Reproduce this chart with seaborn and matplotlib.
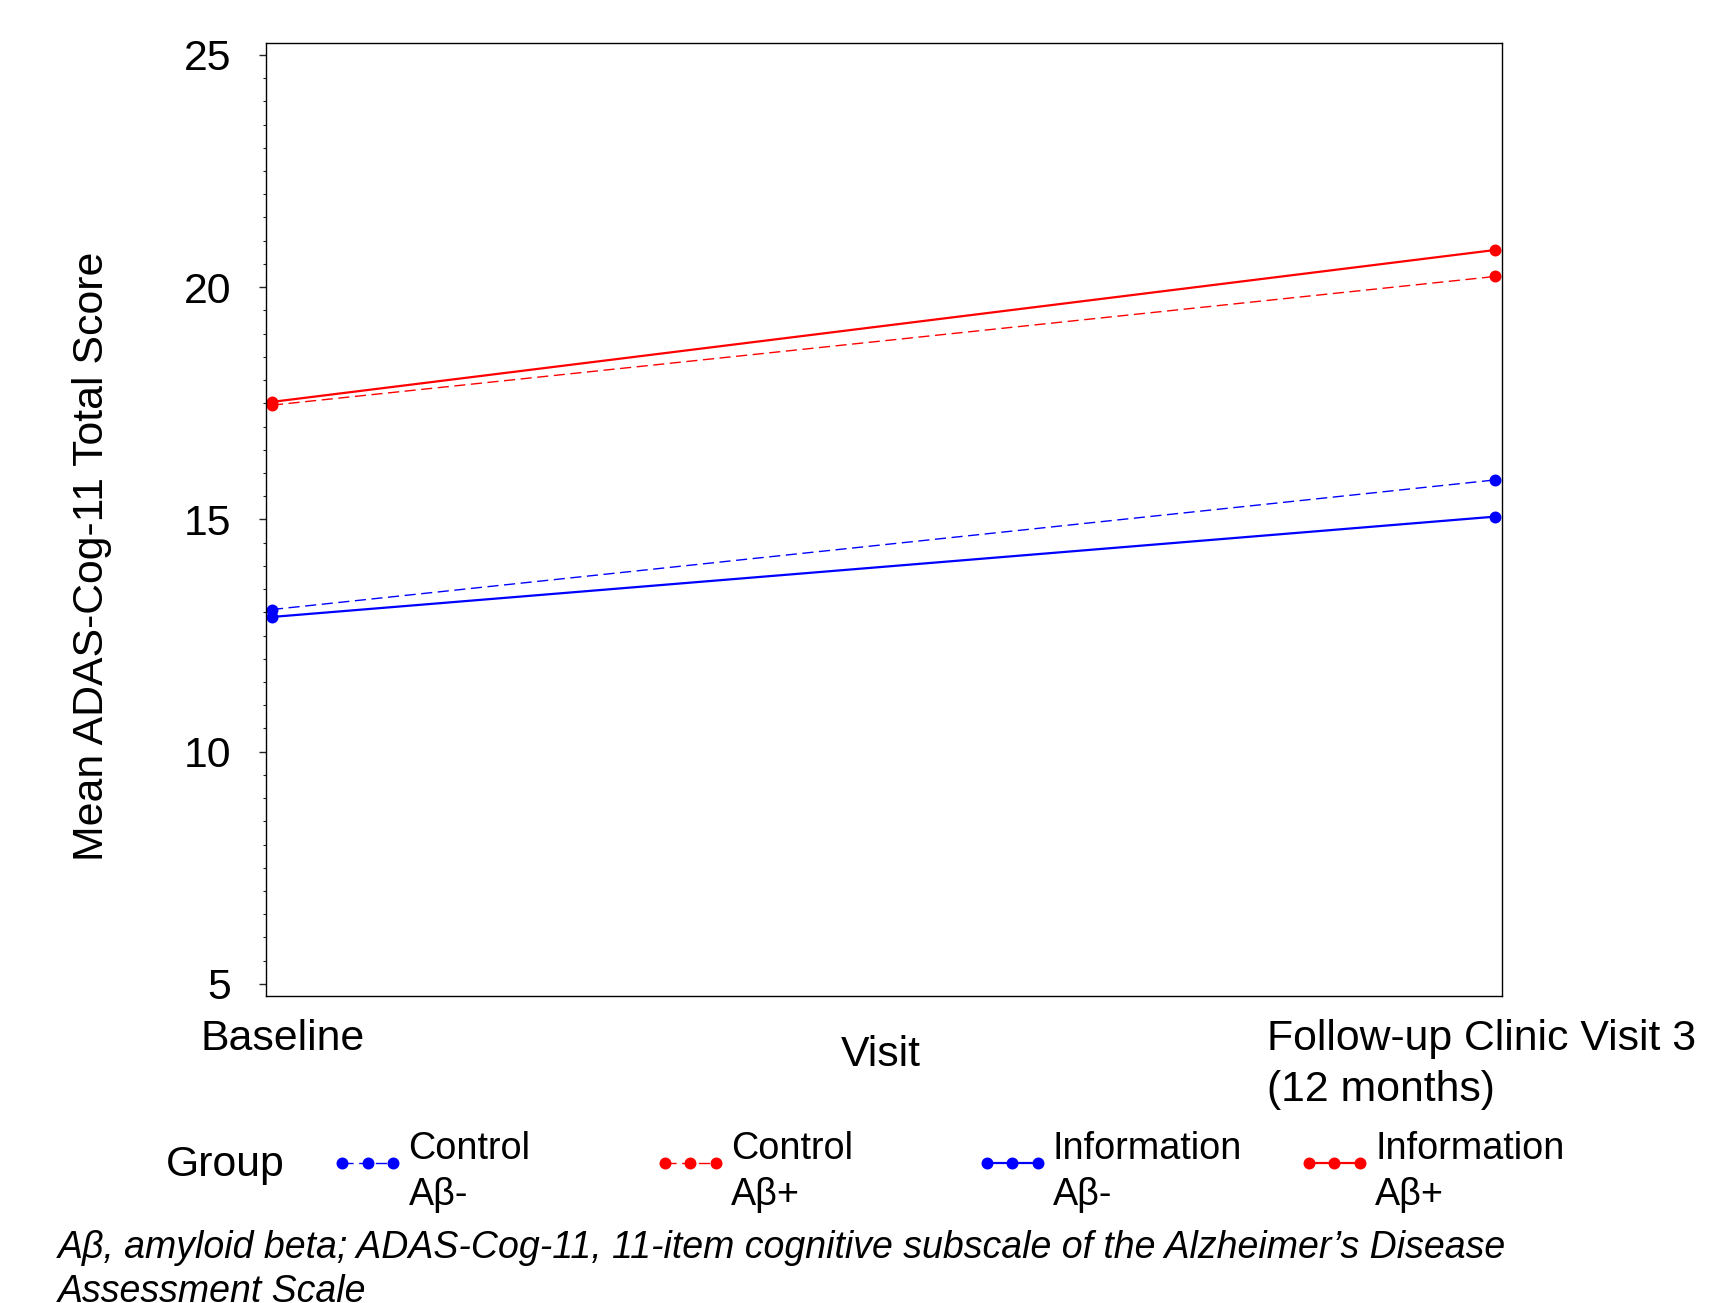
import numpy as np
import pandas as pd
import matplotlib
matplotlib.use("Agg")
import matplotlib.pyplot as plt
import matplotlib.transforms as mtransforms
from matplotlib.lines import Line2D
from matplotlib.ticker import MultipleLocator, FixedLocator
import seaborn as sns

# ---------------- data ----------------
visits = ["Baseline", "Follow-up Clinic Visit 3\n(12 months)"]
groups = ["Control\nAβ-", "Control\nAβ+", "Information\nAβ-", "Information\nAβ+"]
control_neg = [13.06, 15.85]
control_pos = [17.46, 20.23]
info_neg = [12.90, 15.06]
info_pos = [17.53, 20.80]
yticks = [5, 10, 15, 20, 25]
ylabel = "Mean ADAS-Cog-11 Total Score"
xlabel = "Visit"
legend_title = "Group"
footnote = ("Aβ, amyloid beta; ADAS-Cog-11, 11-item cognitive subscale of the Alzheimer’s Disease\n"
            "Assessment Scale")

# ---------------- style ----------------
sns.set_theme(style="white")
plt.rcParams['font.family'] = ['Liberation Sans', 'DejaVu Sans']
plt.rcParams.update({"text.color": "black", "axes.labelcolor": "black",
                     "xtick.color": "black", "ytick.color": "black"})

W, H = 1735, 1303
fig = plt.figure(figsize=(W / 100, H / 100), dpi=100)


def fx(px):
    return px / W


def fy(py):
    return 1 - py / H


ax = fig.add_axes([fx(265.7), fy(996), (1501.7 - 265.7) / W, (996 - 43.3) / H])

df = pd.DataFrame({
    "Visit": visits * 4,
    "Score": control_neg + control_pos + info_neg + info_pos,
    "Group": [g for g in groups for _ in visits],
})

colors = {groups[0]: "#0000FF", groups[1]: "#FF0000",
          groups[2]: "#0000FF", groups[3]: "#FF0000"}
lws = {groups[0]: 1.0, groups[1]: 1.0, groups[2]: 1.6, groups[3]: 1.6}
lss = {groups[0]: (0, (8, 4)), groups[1]: (0, (8, 4)),
       groups[2]: "-", groups[3]: "-"}
ms = 8.6
FS = 30.8

for g in groups:
    sub = df[df["Group"] == g]
    sns.lineplot(data=sub, x="Visit", y="Score", ax=ax, color=colors[g],
                 linewidth=lws[g], linestyle=lss[g], marker="o",
                 markersize=ms, markeredgecolor=colors[g], markeredgewidth=0,
                 legend=False, sort=False)

ax.set_xlim(-0.00515, 1.0055)
ax.set_ylim(4.74, 25.25)

ax.set_xticks([0, 1])
ax.set_xticklabels(visits, fontsize=FS)
ax.tick_params(axis="x", length=0, pad=16.5)
ax.yaxis.set_major_locator(FixedLocator(yticks))
ax.yaxis.set_minor_locator(MultipleLocator(0.5))
ax.tick_params(axis="y", which="both", left=True, direction="out",
               colors="#222222", labelcolor="black")
ax.tick_params(axis="y", which="major", length=5, width=1.0, pad=20, labelsize=FS)
ax.tick_params(axis="y", which="minor", length=2.5, width=0.8)

# x tick label offsets / alignment
xoffs = [11, -13.5]
for tick, dx in zip(ax.xaxis.get_major_ticks(), xoffs):
    lab = tick.label1
    lab.set_multialignment("left")
    lab.set_linespacing(1.36)
    lab.set_transform(lab.get_transform() +
                      mtransforms.ScaledTranslation(dx / 100, 0, fig.dpi_scale_trans))

for s in ax.spines.values():
    s.set_color("black")
    s.set_linewidth(1.0)
    s.set_visible(True)

ax.set_xlabel(xlabel, fontsize=FS)
ax.xaxis.set_label_coords((881 - 265.7) / 1236, -(1065.6 - 996) / 952.7)
ax.xaxis.label.set_va("baseline")

ax.set_ylabel(ylabel, fontsize=FS)
ax.yaxis.label.set_va("center")
ax.yaxis.set_label_coords((92 - 265.7) / 1236, (996 - 556) / 952.7)

# ---------------- legend ----------------
fig.text(fx(166), fy(1176), legend_title, fontsize=FS, va="baseline", ha="left")
LFS = 27.2
for i, g in enumerate(groups):
    h = Line2D([], [], color=colors[g], linewidth=lws[g], linestyle=lss[g],
               marker="o", markersize=ms, markeredgewidth=0)
    leg = fig.legend([h], [g], loc="lower left",
                     bbox_to_anchor=(fx(331 + 322.2 * i), fy(1213)),
                     fontsize=LFS, handlelength=1.95, handletextpad=0.1,
                     handleheight=2.35,
                     numpoints=3, frameon=False, borderpad=0, borderaxespad=0)
    for t in leg.get_texts():
        t.set_linespacing(1.36)

# ---------------- footnote ----------------
fig.text(fx(57.4), fy(1301.5), footnote, fontsize=27, style="italic",
         va="baseline", ha="left", linespacing=1.26)

fig.savefig("out.png", dpi=100, facecolor="white")
